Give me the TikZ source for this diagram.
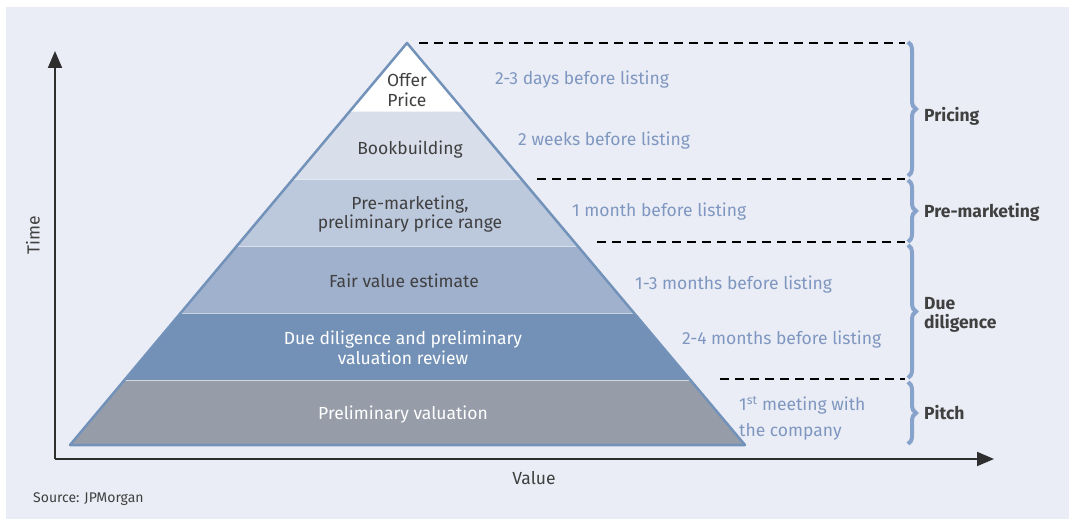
\documentclass[tikz,border=0pt]{standalone}
\usepackage{fontspec}
\setmainfont{Fira Sans}
\usetikzlibrary{decorations.pathreplacing,arrows.meta}
\definecolor{bg}{HTML}{EAEDF5}
\definecolor{edgec}{HTML}{7392BA}
\definecolor{cA}{HTML}{D9DFEA}
\definecolor{cB}{HTML}{BCC8DC}
\definecolor{cC}{HTML}{A0B1CD}
\definecolor{cD}{HTML}{7391B6}
\definecolor{cE}{HTML}{969CA8}
\definecolor{txt}{HTML}{404040}
\definecolor{lbl}{HTML}{7F97C0}
\definecolor{brc}{HTML}{87A2CB}
\definecolor{axisc}{HTML}{2E2E2E}
\tikzset{
  band/.style={font=\fontsize{17.5}{19.5}\selectfont, align=center, inner sep=0pt},
  dark/.style={band, text=txt},
  light/.style={band, text=white},
  when/.style={font=\fontsize{17.5}{26}\selectfont, text=lbl, anchor=west, inner sep=0pt, align=left},
  phase/.style={font=\fontsize{17.5}{19.5}\selectfont\bfseries, text=txt, anchor=west, inner sep=0pt, align=left},
  guide/.style={black, line width=2.2pt, dash pattern=on 9pt off 6pt},
  phasebrace/.style={brc, line width=4pt, decorate, decoration={brace, amplitude=8pt}},
  axisline/.style={axisc, line width=2pt, -{Triangle[length=17pt,width=14pt]}}
}
\begin{document}
\begin{tikzpicture}[x=1pt,y=-1pt]
\useasboundingbox (0,0) rectangle (1069,521);
\fill[white] (0,0) rectangle (1069,521);
\fill[bg] (6,7) rectangle (1069,519);
% pyramid
\coordinate (apex) at (407,43);
\coordinate (bl) at (70,445);
\coordinate (br) at (745,445);
\begin{scope}
\clip (apex) -- (bl) -- (br) -- cycle;
\fill[white] (60,40) rectangle (760,111);
\fill[cA] (60,111) rectangle (760,179);
\fill[cB] (60,179) rectangle (760,246);
\fill[cC] (60,246) rectangle (760,313);
\fill[cD] (60,313) rectangle (760,380);
\fill[cE] (60,380) rectangle (760,446);
\foreach \yy in {111,179,246,313,380} \draw[white, opacity=0.6, line width=0.8pt] (60,\yy) -- (760,\yy);
\end{scope}
\draw[edgec, line width=2.5pt, line join=round] (apex) -- (bl) -- (br) -- cycle;
% axes
\coordinate (orig) at (55,459);
\coordinate (ytip) at (55,51);
\coordinate (xtip) at (994,459);
\draw[axisline] (orig) -- (ytip);
\draw[axisline] (orig) -- (xtip);
\node[font=\fontsize{17.5}{20}\selectfont, text=txt, rotate=90] (time) at (33,235) {Time};
\node[font=\fontsize{17.5}{20}\selectfont, text=txt] (value) at (534,478) {Value};
\node[font=\fontsize{14}{16}\selectfont, text=txt, anchor=west, inner sep=0pt] (src) at (33,499) {Source: JPMorgan};
% band texts
\node[dark] (offer) at (407,90) {Offer\\Price};
\node[dark] (book) at (410,150) {Bookbuilding};
\node[dark] (prem) at (410,214) {Pre-marketing,\\preliminary price range};
\node[dark] (fair) at (404,281) {Fair value estimate};
\node[light] (due) at (403,348) {Due diligence and preliminary\\valuation review};
\node[light] (prel) at (403,415) {Preliminary valuation};
% timing labels
\node[when] (t1) at (495,80) {2-3 days before listing};
\node[when] (t2) at (518,141) {2 weeks before listing};
\node[when] (t3) at (572,212) {1 month before listing};
\node[when] (t4) at (635,285) {1-3 months before listing};
\node[when] (t5) at (682,340) {2-4 months before listing};
\node[when] (t6) at (739,418) {1\textsuperscript{st} meeting with\\the company};
% dashed guides
\coordinate (g1a) at (419,43); \coordinate (g1b) at (905,43);
\coordinate (g2a) at (537,179); \coordinate (g2b) at (905,179);
\coordinate (g3a) at (597,242); \coordinate (g3b) at (905,242);
\coordinate (g4a) at (720,379); \coordinate (g4b) at (905,379);
\draw[guide] (g1a) -- (g1b);
\draw[guide] (g2a) -- (g2b);
\draw[guide] (g3a) -- (g3b);
\draw[guide] (g4a) -- (g4b);
% braces
\coordinate (b1a) at (908,42); \coordinate (b1b) at (908,176);
\coordinate (b2a) at (908,180); \coordinate (b2b) at (908,242);
\coordinate (b3a) at (908,245); \coordinate (b3b) at (908,378);
\coordinate (b4a) at (908,382); \coordinate (b4b) at (908,444);
\draw[phasebrace] (b1a) -- (b1b);
\draw[phasebrace] (b2a) -- (b2b);
\draw[phasebrace] (b3a) -- (b3b);
\draw[phasebrace] (b4a) -- (b4b);
\node[phase] (pricing) at (924,116) {Pricing};
\node[phase] (premk) at (924,212) {Pre-marketing};
\node[phase] (duedil) at (924,315) {Due\\diligence};
\node[phase] (pitch) at (924,413) {Pitch};
\end{tikzpicture}
\end{document}
